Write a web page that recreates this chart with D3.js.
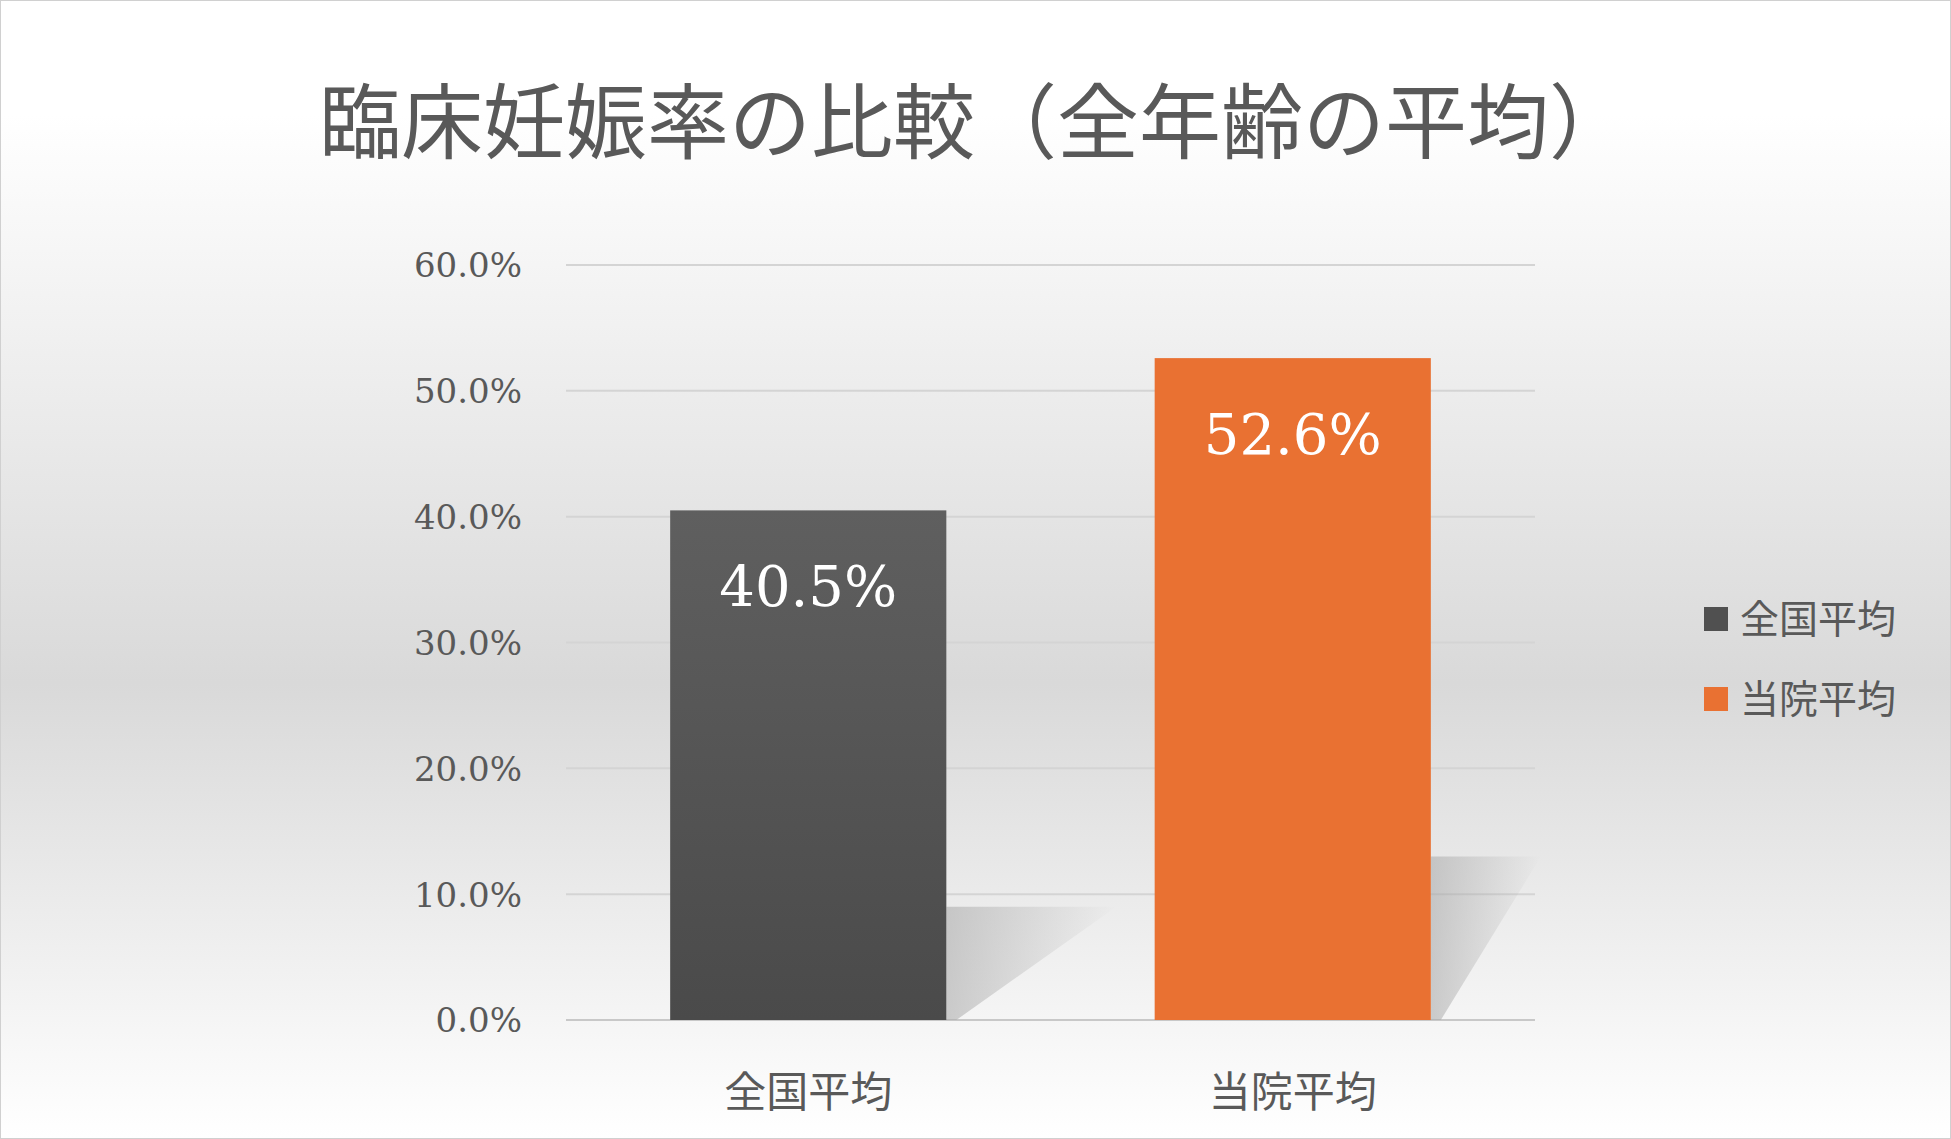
<!DOCTYPE html>
<html><head><meta charset="utf-8">
<script src="https://cdn.jsdelivr.net/npm/d3@7"></script>
<style>body{margin:0;overflow:hidden}</style></head>
<body><svg id="c" width="1951" height="1139"></svg>
<script>
const categories=["全国平均","当院平均"];
const values=[0.405,0.526];
const colors=["#505050","#E97132"];
const tickValues=[0,0.1,0.2,0.3,0.4,0.5,0.6];
const title="臨床妊娠率の比較（全年齢の平均）";
const W=1951,H=1139;
const svg=d3.select("#c");
const defs=svg.append("defs");
const bg=defs.append("linearGradient").attr("id","bg").attr("x1",0).attr("y1",0).attr("x2",0).attr("y2",1);
bg.append("stop").attr("offset","0.1").attr("stop-color","#ffffff");
bg.append("stop").attr("offset","0.6").attr("stop-color","#d9d9d9");
bg.append("stop").attr("offset","1").attr("stop-color","#ffffff");
const g1=defs.append("linearGradient").attr("id","g1").attr("x1",0).attr("y1",0).attr("x2",0).attr("y2",1);
g1.append("stop").attr("offset","0").attr("stop-color","#5f5f5f");
g1.append("stop").attr("offset","1").attr("stop-color","#4a4a4a");
const sh=defs.append("linearGradient").attr("id","sh").attr("x1",0).attr("y1",0).attr("x2",1).attr("y2",0);
sh.append("stop").attr("offset","0").attr("stop-color","#a8a8a8").attr("stop-opacity",0.8);
sh.append("stop").attr("offset","1").attr("stop-color","#a8a8a8").attr("stop-opacity",0);
svg.append("rect").attr("x",0.5).attr("y",0.5).attr("width",W-1).attr("height",H-1).attr("fill","url(#bg)").attr("stroke","#d0d0d0");
const font="'DejaVu Serif','Liberation Serif','Noto Sans CJK JP',serif";
svg.append("text").attr("x",975).attr("y",152).attr("text-anchor","middle").attr("font-family",font).attr("font-size",82).attr("fill","#595959").text(title);
const x=d3.scaleBand().domain(categories).range([566,1535]).paddingInner(0.43).paddingOuter(0.215);
const y=d3.scaleLinear().domain([0,0.6]).range([1020,265]);
const grid=svg.append("g");
grid.selectAll("line").data(tickValues).join("line").attr("x1",566).attr("x2",1535).attr("y1",d=>y(d)).attr("y2",d=>y(d)).attr("stroke",(d)=>d===0?"#c8c8c8":"#d4d4d4").attr("stroke-width",2);
const ya=svg.append("g").attr("transform","translate(525,0)").call(d3.axisLeft(y).tickValues(tickValues).tickFormat(d3.format(".1%")).tickSize(0));
ya.select(".domain").remove();
ya.selectAll("text").attr("font-family",font).attr("font-size",34).attr("fill","#595959").attr("dy","0.35em");
svg.selectAll(".sh").data(categories).join("path").attr("fill","url(#sh)").attr("opacity",0.7)
 .attr("d",(d,i)=>{const x1=x(d)+x.bandwidth(),top=i===0?y(0.09):y(0.13);return `M${x1},${y(0)} L${x1},${top} L${x1+(i===0?170:110)},${top} L${x1+10},${y(0)} Z`;});
svg.selectAll(".bar").data(values).join("rect").attr("x",(d,i)=>x(categories[i])).attr("width",x.bandwidth())
 .attr("y",d=>y(d)).attr("height",d=>y(0)-y(d)).attr("fill",(d,i)=>i===0?"url(#g1)":colors[1]);
svg.selectAll(".lab").data(values).join("text").attr("x",(d,i)=>x(categories[i])+x.bandwidth()/2).attr("y",d=>y(d)+96)
 .attr("text-anchor","middle").attr("font-family",font).attr("font-size",56).attr("fill","#fff").text(d=>d3.format(".1%")(d));
const xa=svg.append("g").attr("transform","translate(0,1020)").call(d3.axisBottom(x).tickSize(0));
xa.select(".domain").remove();
xa.selectAll("text").attr("font-family",font).attr("font-size",42).attr("fill","#595959").attr("dy","2em");
const lg=svg.selectAll(".lg").data(categories).join("g").attr("transform",(d,i)=>`translate(1704,${607+i*80})`);
lg.append("rect").attr("width",24).attr("height",24).attr("fill",(d,i)=>colors[i]);
lg.append("text").attr("x",36).attr("y",12).attr("dy","0.36em").attr("font-family",font).attr("font-size",39).attr("fill","#595959").text(d=>d);
</script></body></html>
